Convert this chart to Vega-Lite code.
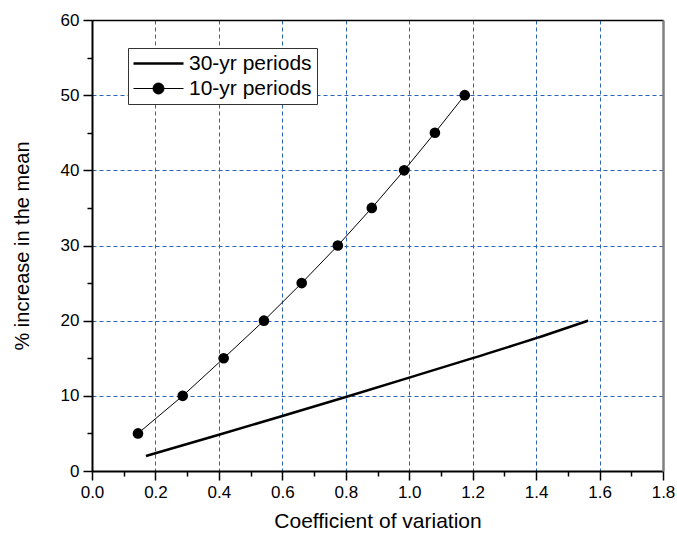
{
  "$schema": "https://vega.github.io/schema/vega-lite/v6.json",
  "autosize": "none",
  "width": 571,
  "height": 451,
  "padding": {"left": 92, "top": 20, "right": 14, "bottom": 62},
  "background": "white",
  "config": {
    "view": {"stroke": null},
    "font": "Liberation Sans",
    "axis": {"labelFont": "Liberation Sans", "titleFont": "Liberation Sans", "labelColor": "black", "titleColor": "black", "titleFontWeight": "normal"}
  },
  "data": {
    "values": [
      {"series": "30-yr periods", "cv": 0.17, "inc": 2},
      {"series": "30-yr periods", "cv": 0.4, "inc": 4.82},
      {"series": "30-yr periods", "cv": 0.6, "inc": 7.32},
      {"series": "30-yr periods", "cv": 0.8, "inc": 9.85},
      {"series": "30-yr periods", "cv": 1.0, "inc": 12.42},
      {"series": "30-yr periods", "cv": 1.2, "inc": 15.02},
      {"series": "30-yr periods", "cv": 1.4, "inc": 17.67},
      {"series": "30-yr periods", "cv": 1.564, "inc": 20},
      {"series": "10-yr periods", "cv": 0.145, "inc": 5},
      {"series": "10-yr periods", "cv": 0.286, "inc": 10},
      {"series": "10-yr periods", "cv": 0.415, "inc": 15},
      {"series": "10-yr periods", "cv": 0.542, "inc": 20},
      {"series": "10-yr periods", "cv": 0.661, "inc": 25},
      {"series": "10-yr periods", "cv": 0.775, "inc": 30},
      {"series": "10-yr periods", "cv": 0.882, "inc": 35},
      {"series": "10-yr periods", "cv": 0.984, "inc": 40},
      {"series": "10-yr periods", "cv": 1.081, "inc": 45},
      {"series": "10-yr periods", "cv": 1.175, "inc": 50}
    ]
  },
  "resolve": {"axis": {"x": "independent", "y": "independent"}},
  "layer": [
    {
      "transform": [{"filter": "datum.series == '30-yr periods'"}],
      "mark": {"type": "line", "strokeWidth": 2.5, "interpolate": "monotone"},
      "encoding": {
        "x": {
          "field": "cv", "type": "quantitative",
          "scale": {"domain": [0, 1.8], "nice": false, "zero": false},
          "axis": {
            "title": "Coefficient of variation",
            "titleFontSize": 21, "titlePadding": 10,
            "values": [0,0.1,0.2,0.3,0.4,0.5,0.6,0.7,0.8,0.9,1.0,1.1,1.2,1.3,1.4,1.5,1.6,1.7,1.8],
            "labelExpr": "round(datum.value*10) % 2 == 0 ? format(datum.value, '.1f') : ''",
            "labelFontSize": 17, "labelPadding": 4, "labelFlush": false, "labelOverlap": false,
            "tickSize": {"condition": {"test": "round(datum.value*10) % 2 == 0", "value": 9}, "value": 5},
            "tickColor": "black", "tickWidth": 1.5,
            "domainColor": "black", "domainWidth": 2,
            "grid": true, "gridColor": "#2a62b8", "gridDash": [4, 3], "gridWidth": 1,
            "gridOpacity": {"condition": {"test": "round(datum.value*10) % 2 == 0", "value": 1}, "value": 0}
          }
        },
        "y": {
          "field": "inc", "type": "quantitative",
          "scale": {"domain": [0, 60], "nice": false},
          "axis": {
            "title": "% increase in the mean",
            "titleFontSize": 20, "titlePadding": 28,
            "values": [0,5,10,15,20,25,30,35,40,45,50,55,60],
            "labelExpr": "datum.value % 10 == 0 ? format(datum.value, 'd') : ''",
            "labelFontSize": 17, "labelPadding": 4, "labelOverlap": false,
            "tickSize": {"condition": {"test": "datum.value % 10 == 0", "value": 9}, "value": 5},
            "tickColor": "black", "tickWidth": 1.5,
            "domainColor": "black", "domainWidth": 2,
            "grid": true, "gridColor": "#2a62b8", "gridDash": [4, 3], "gridWidth": 1,
            "gridOpacity": {"condition": {"test": "datum.value % 10 == 0", "value": 1}, "value": 0}
          }
        },
        "color": {
          "field": "series", "type": "nominal",
          "scale": {"domain": ["30-yr periods", "10-yr periods"], "range": ["black", "black"]},
          "legend": {
            "title": null,
            "orient": "none", "legendX": 36, "legendY": 28,
            "strokeColor": "#333", "fillColor": "white", "padding": 5,
            "labelFontSize": 21, "labelFont": "Liberation Sans", "labelColor": "black",
            "symbolSize": 2500, "symbolOffset": 15, "labelOffset": 20, "rowPadding": 3,
            "encode": {
              "symbols": {
                "update": {
                  "shape": {"signal": "datum.value == '10-yr periods' ? 'M-1,0H-0.22M0.22,0H1M0.22,0A0.22,0.22 0 1,1 -0.22,0A0.22,0.22 0 1,1 0.22,0' : 'M-1,0H1'"},
                  "strokeWidth": {"signal": "datum.value == '30-yr periods' ? 2.5 : 1"},
                  "fill": {"value": "black"},
                  "stroke": {"value": "black"},
                  "opacity": {"value": 1}
                }
              }
            }
          }
        }
      }
    },
    {
      "transform": [{"filter": "datum.series == '10-yr periods'"}],
      "mark": {"type": "line", "strokeWidth": 1},
      "encoding": {
        "x": {"field": "cv", "type": "quantitative", "axis": null},
        "y": {"field": "inc", "type": "quantitative", "axis": null},
        "color": {"field": "series", "type": "nominal"}
      }
    },
    {
      "transform": [{"filter": "datum.series == '10-yr periods'"}],
      "mark": {"type": "point", "filled": true, "size": 113, "color": "black", "opacity": 1},
      "encoding": {
        "x": {"field": "cv", "type": "quantitative",
          "axis": {"orient": "top", "title": null, "labels": false, "ticks": false, "grid": false, "domainColor": "black", "domainWidth": 1.5}},
        "y": {"field": "inc", "type": "quantitative",
          "axis": {"orient": "right", "title": null, "labels": false, "ticks": false, "grid": false, "domainColor": "#808080", "domainWidth": 2.5}}
      }
    }
  ]
}
